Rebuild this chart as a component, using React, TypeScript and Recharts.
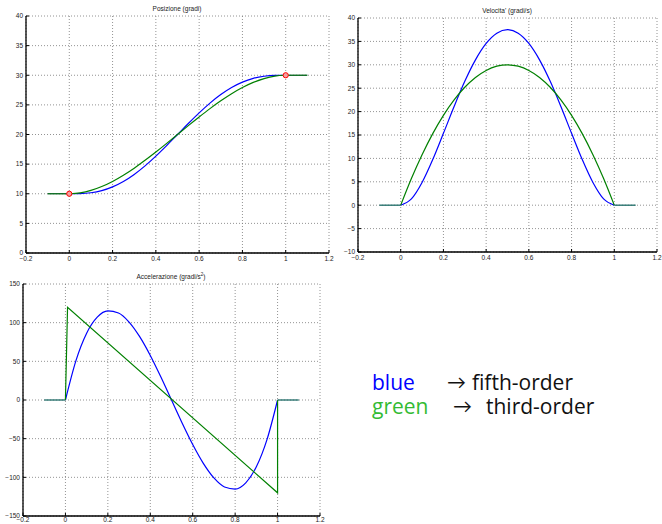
import React from 'react'
import { LineChart, Line, XAxis, YAxis, CartesianGrid, Scatter } from 'recharts'

// sample times on the motion interval
const T = [0, 0.05, 0.1, 0.15, 0.2, 0.25, 0.3, 0.35, 0.4, 0.45, 0.5, 0.55, 0.6, 0.65, 0.7, 0.75, 0.8, 0.85, 0.9, 0.95, 1]

const pos5 = [10, 10.02, 10.17, 10.53, 11.16, 12.07, 13.26, 14.7, 16.35, 18.14, 20, 21.86, 23.65, 25.3, 26.74, 27.93, 28.84, 29.47, 29.83, 29.98, 30]
const pos3 = [10, 10.15, 10.56, 11.22, 12.08, 13.13, 14.32, 15.64, 17.04, 18.5, 20, 21.5, 22.96, 24.37, 25.68, 26.88, 27.92, 28.79, 29.44, 29.86, 30]

const vel5 = [0, 1.35, 4.86, 9.75, 15.36, 21.09, 26.46, 31.05, 34.56, 36.75, 37.5, 36.75, 34.56, 31.05, 26.46, 21.09, 15.36, 9.75, 4.86, 1.35, 0]
const vel3 = [0, 5.7, 10.8, 15.3, 19.2, 22.5, 25.2, 27.3, 28.8, 29.7, 30, 29.7, 28.8, 27.3, 25.2, 22.5, 19.2, 15.3, 10.8, 5.7, 0]

const acc5 = [0, 51.3, 86.4, 107.1, 115.2, 112.5, 100.8, 81.9, 57.6, 29.7, 0, -29.7, -57.6, -81.9, -100.8, -112.5, -115.2, -107.1, -86.4, -51.3, 0]
const acc3Times = [0, 0.01, 1, 1]
const acc3 = [0, 120, -120, 0]

// rest before and after the motion
const preTimes = [-0.1, 0]
const postTimes = [1, 1.1]
const posPre = [10, 10]
const posPost = [30, 30]
const zeroRest = [0, 0]

// via points
const viaTimes = [0, 1]
const viaPos = [10, 30]

const xTicks = [-0.2, 0, 0.2, 0.4, 0.6, 0.8, 1, 1.2]
const posTicks = [0, 5, 10, 15, 20, 25, 30, 35, 40]
const velTicks = [-10, -5, 0, 5, 10, 15, 20, 25, 30, 35, 40]
const accTicks = [-150, -100, -50, 0, 50, 100, 150]

const BLUE = '#0000ff'
const GREEN = '#008000'
const TEAL = '#2b7570'
const FONT = '"Liberation Sans", Arial, sans-serif'

const zip = (xs: number[], ys: number[]) => xs.map((x, i) => ({ t: x, v: ys[i] }))

const fmt = (v: number) => (v < 0 ? '\u2212' : '') + String(Math.abs(v))
const tickStyle = { fontSize: 6.5, fill: '#222', fontFamily: FONT }
const noLabel = () => <g />

type PlotProps = {
  width: number
  height: number
  margin: { top: number; right: number; bottom: number; left: number }
  yWidth: number
  xHeight: number
  xMargin: number
  yDomain: [number, number]
  yTicks: number[]
  children: React.ReactNode
}

function Plot({ width, height, margin, yWidth, xHeight, xMargin, yDomain, yTicks, children }: PlotProps) {
  return (
    <LineChart width={width} height={height} margin={margin}>
      <CartesianGrid stroke="#777" strokeDasharray="1 2" strokeWidth={0.8} />
      <XAxis
        dataKey="t"
        type="number"
        domain={[-0.2, 1.2]}
        ticks={xTicks}
        interval={0}
        allowDuplicatedCategory={false}
        tickFormatter={fmt}
        tick={tickStyle}
        tickSize={-3}
        tickMargin={xMargin}
        height={xHeight}
        axisLine={{ stroke: '#000', strokeWidth: 1.3 }}
        tickLine={{ stroke: '#000' }}
      />
      <XAxis
        xAxisId="top"
        orientation="top"
        dataKey="t"
        type="number"
        domain={[-0.2, 1.2]}
        ticks={xTicks}
        interval={0}
        tick={noLabel}
        tickSize={-3}
        height={0}
        axisLine={{ stroke: '#000', strokeWidth: 1.3 }}
        tickLine={{ stroke: '#000' }}
      />
      <YAxis
        type="number"
        domain={yDomain}
        ticks={yTicks}
        interval={0}
        tickFormatter={fmt}
        tick={tickStyle}
        tickSize={-3}
        tickMargin={6}
        width={yWidth}
        axisLine={{ stroke: '#000', strokeWidth: 1.3 }}
        tickLine={{ stroke: '#000' }}
      />
      <YAxis
        yAxisId="right"
        orientation="right"
        type="number"
        domain={yDomain}
        ticks={yTicks}
        interval={0}
        tick={noLabel}
        tickSize={-3}
        width={0}
        axisLine={{ stroke: '#000', strokeWidth: 1.3 }}
        tickLine={{ stroke: '#000' }}
      />
      {children}
    </LineChart>
  )
}

const lineProps = { dataKey: 'v', dot: false, isAnimationActive: false, strokeWidth: 1.2 }

const title = (text: React.ReactNode, cx: number, cy: number) => (
  <div
    style={{
      position: 'absolute',
      left: cx - 100,
      top: cy - 5,
      width: 200,
      textAlign: 'center',
      fontFamily: FONT,
      fontSize: 6.5,
      lineHeight: '10px',
      color: '#222',
      whiteSpace: 'nowrap',
    }}
  >
    {text}
  </div>
)

const restLines = (pre: number[], post: number[], color: string, key: string) => [
  <Line key={key + 'p'} {...lineProps} data={zip(preTimes, pre)} stroke={color} strokeWidth={1.4} />,
  <Line key={key + 'q'} {...lineProps} data={zip(postTimes, post)} stroke={color} strokeWidth={1.4} />,
]

const legendText = (text: string, left: number, top: number, color: string, size = 21) => (
  <span
    style={{
      position: 'absolute',
      left,
      top,
      color,
      fontFamily: '"Open Sans", Lato, sans-serif',
      fontSize: size,
      lineHeight: '22px',
      whiteSpace: 'nowrap',
    }}
  >
    {text}
  </span>
)

export default function App() {
  return (
    <div
      style={{
        position: 'absolute',
        left: 0,
        top: 0,
        width: 662,
        height: 524,
        background: '#fff',
        overflow: 'hidden',
      }}
    >
      {/* Posizione */}
      <div style={{ position: 'absolute', left: 0, top: 0 }}>
        <Plot
          width={340}
          height={270}
          margin={{ top: 16, right: 11, bottom: 0, left: 0 }}
          yWidth={26}
          xHeight={17}
          xMargin={6}
          yDomain={[0, 40]}
          yTicks={posTicks}
        >
          <Line {...lineProps} type="monotone" data={zip(T, pos5)} stroke={BLUE} />
          <Line {...lineProps} type="monotone" data={zip(T, pos3)} stroke={GREEN} />
          {restLines(posPre, posPost, '#0a6a20', 'p')}
          <Scatter
            data={zip(viaTimes, viaPos)}
            dataKey="v"
            isAnimationActive={false}
            shape={(p: any) => <circle cx={p.cx} cy={p.cy} r={2.6} fill="#f4a0a0" stroke="#ff0000" strokeWidth={1} />}
          />
        </Plot>
      </div>
      {title('Posizione  (gradi)', 177, 9)}

      {/* Velocita' */}
      <div style={{ position: 'absolute', left: 340, top: 0 }}>
        <Plot
          width={322}
          height={270}
          margin={{ top: 18, right: 5, bottom: 0, left: 0 }}
          yWidth={18}
          xHeight={18}
          xMargin={6}
          yDomain={[-10, 40]}
          yTicks={velTicks}
        >
          <Line {...lineProps} type="monotone" data={zip(T, vel5)} stroke={BLUE} />
          <Line {...lineProps} type="monotone" data={zip(T, vel3)} stroke={GREEN} />
          {restLines(zeroRest, zeroRest, TEAL, 'v')}
        </Plot>
      </div>
      {title("Velocita'  (gradi/s)", 507, 11)}

      {/* Accelerazione */}
      <div style={{ position: 'absolute', left: 0, top: 262 }}>
        <Plot
          width={340}
          height={262}
          margin={{ top: 22, right: 20, bottom: 0, left: 0 }}
          yWidth={23}
          xHeight={8}
          xMargin={4}
          yDomain={[-150, 150]}
          yTicks={accTicks}
        >
          <Line {...lineProps} type="monotone" data={zip(T, acc5)} stroke={BLUE} />
          <Line {...lineProps} type="linear" data={zip(acc3Times, acc3)} stroke={GREEN} />
          {restLines(zeroRest, zeroRest, TEAL, 'a')}
        </Plot>
      </div>
      {title(
        <span>
          Accelerazione (gradi/s<sup style={{ fontSize: 4.5 }}>2</sup>)
        </span>,
        171,
        275
      )}

      {/* legenda */}
      {legendText('blue', 372, 371, BLUE)}
      {legendText('→', 447, 371, '#111', 19)}
      {legendText('fifth-order', 472, 371, '#111')}
      {legendText('green', 372, 395, '#33bb33')}
      {legendText('→', 453, 395, '#111', 19)}
      {legendText('third-order', 486, 395, '#111')}
    </div>
  )
}
